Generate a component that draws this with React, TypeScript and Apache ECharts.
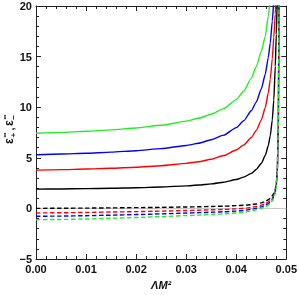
import React, { useEffect, useRef } from "react";
import * as echarts from "echarts";

const xs = [0, 0.005, 0.01, 0.015, 0.02, 0.025, 0.03, 0.0325, 0.035, 0.0375, 0.04, 0.0415, 0.043, 0.044, 0.045, 0.0458, 0.0464, 0.0468, 0.0472, 0.0475, 0.0478, 0.048, 0.0482, 0.0484, 0.0486];

const greenSolid = [7.42, 7.51, 7.62, 7.76, 7.95, 8.22, 8.62, 8.91, 9.3, 9.86, 10.75, 11.6, 12.85, 14.0, 15.5, 17.0, 19.0, 20.4, 22.8, 26];
const blueSolid = [5.3, 5.37, 5.45, 5.56, 5.7, 5.91, 6.22, 6.44, 6.78, 7.24, 7.98, 8.66, 9.65, 10.5, 11.8, 13.25, 14.9, 16.35, 18.5, 20.4, 23.5, 28];
const redSolid = [3.78, 3.83, 3.89, 3.97, 4.07, 4.22, 4.45, 4.61, 4.85, 5.22, 5.77, 6.27, 7.0, 7.7, 8.72, 9.97, 11.4, 12.75, 14.8, 16.9, 19.2, 21.5, 25];
const blackSolid = [1.9, 1.924, 1.953, 1.99, 2.04, 2.115, 2.23, 2.31, 2.42, 2.59, 2.85, 3.09, 3.46, 3.85, 4.44, 5.22, 6.19, 7.19, 8.75, 10.68, 14.05, 17.2, 20.5, 25];

const blackDashed = [0.0, 0.015, 0.03, 0.05, 0.075, 0.1, 0.14, 0.16, 0.19, 0.22, 0.27, 0.31, 0.37, 0.44, 0.55, 0.68, 0.85, 1.0, 1.25, 1.5, 1.9, 2.5, 3.8, 8, 30];
const redDashed = [-0.45, -0.43, -0.4, -0.36, -0.32, -0.27, -0.21, -0.18, -0.14, -0.1, -0.05, 0.01, 0.1, 0.19, 0.32, 0.46, 0.62, 0.77, 1.0, 1.28, 1.7, 2.3, 3.7, 8, 30];
const blueDashed = [-0.78, -0.76, -0.72, -0.67, -0.61, -0.54, -0.46, -0.42, -0.38, -0.33, -0.27, -0.2, -0.09, 0.01, 0.15, 0.29, 0.46, 0.62, 0.87, 1.16, 1.6, 2.2, 3.6, 8, 30];
const greenDashed = [-1.12, -1.09, -1.05, -0.98, -0.9, -0.81, -0.71, -0.66, -0.6, -0.54, -0.46, -0.38, -0.25, -0.13, 0.02, 0.16, 0.33, 0.5, 0.76, 1.06, 1.5, 2.1, 3.5, 8, 30];

const xTicks = [0, 0.01, 0.02, 0.03, 0.04, 0.05];
const yTicks = [-5, 0, 5, 10, 15, 20];

const GREEN = "#22ee22";
const BLUE = "#0000ff";
const RED = "#ff0000";
const BLACK = "#000000";

const toPairs = (ys: number[]) => ys.map((y, i) => [xs[i], y]);

export default function App() {
  const ref = useRef<HTMLDivElement>(null);
  useEffect(() => {
    if (!ref.current) return;
    const chart = echarts.init(ref.current, null, { renderer: "svg" });
    const font = "'Liberation Sans', Arial, sans-serif";
    const axisCommon = {
      axisLine: { show: true, onZero: false, lineStyle: { color: "#222", width: 1 } },
      axisTick: { show: true, inside: true, length: 5, lineStyle: { color: "#222" } },
      minorTick: { show: true, splitNumber: 5, length: 3, lineStyle: { color: "#222" } },
      splitLine: { show: false },
    };
    const line = (name: string, ys: number[], color: string, dashed: boolean, extra: any = {}) => ({
      type: "line",
      name,
      data: toPairs(ys),
      showSymbol: false,
      symbol: "none",
      smooth: 0.2,
      smoothMonotone: "x",
      clip: true,
      lineStyle: { color, width: 1.4, type: dashed ? [4.5, 2.5] : "solid" },
      z: dashed ? 3 : 4,
      ...extra,
    });
    const t = (text: string, x: number, y: number, size: number) => ({
      type: "text",
      x,
      y,
      style: {
        text,
        fontFamily: font,
        fontWeight: "bold",
        fontSize: size,
        fill: "#111",
        align: "left",
        verticalAlign: "middle",
      },
    });
    chart.setOption({
      animation: false,
      grid: { left: 36, right: 12, top: 6, bottom: 36, containLabel: false },
      xAxis: [
        {
          type: "value",
          min: xTicks[0],
          max: xTicks[xTicks.length - 1],
          interval: 0.01,
          position: "bottom",
          ...axisCommon,
          axisLabel: {
            show: true,
            margin: 4,
            fontFamily: font,
            fontWeight: "bold",
            fontSize: 11,
            color: "#111",
            formatter: (v: number) => v.toFixed(2),
          },
          name: "ΛM²",
          nameLocation: "middle",
          nameGap: 20,
          nameMoveOverlap: false,
          nameTextStyle: { fontFamily: font, fontStyle: "italic", fontWeight: "bold", fontSize: 11, color: "#111" },
        },
        {
          type: "value",
          min: xTicks[0],
          max: xTicks[xTicks.length - 1],
          interval: 0.01,
          position: "top",
          ...axisCommon,
          axisLabel: { show: false },
        },
      ],
      yAxis: [
        {
          type: "value",
          min: yTicks[0],
          max: yTicks[yTicks.length - 1],
          interval: 5,
          position: "left",
          ...axisCommon,
          axisLabel: {
            show: true,
            margin: 4,
            fontFamily: font,
            fontWeight: "bold",
            fontSize: 11,
            color: "#111",
            formatter: (v: number) => (v < 0 ? "\u2212" + Math.abs(v) : String(v)),
          },
        },
        {
          type: "value",
          min: yTicks[0],
          max: yTicks[yTicks.length - 1],
          interval: 5,
          position: "right",
          ...axisCommon,
          axisLabel: { show: false },
        },
      ],
      graphic: [
        {
          type: "group",
          x: 9,
          y: 127,
          rotation: Math.PI / 2,
          children: [
            t("ε", -17, 0, 12),
            t("∞", -10.5, -4.5, 7),
            t("+", -10.5, 4, 8),
            t(",", -3.5, 1, 11),
            t("ε", 1, 0, 12),
            t("∞", 7.5, -4.5, 7),
            t("−", 7.5, 4, 8),
          ],
        },
      ],
      series: [
        line("blackDashed", blackDashed, BLACK, true, {
          markLine: {
            silent: true,
            symbol: "none",
            label: { show: false },
            lineStyle: { color: "#c8c8c8", type: "solid", width: 1 },
            data: [{ yAxis: 0 }],
            z: 1,
          },
        }),
        line("redDashed", redDashed, RED, true),
        line("blueDashed", blueDashed, BLUE, true),
        line("greenDashed", greenDashed, GREEN, true),
        line("blackSolid", blackSolid, BLACK, false),
        line("redSolid", redSolid, RED, false),
        line("blueSolid", blueSolid, BLUE, false),
        line("greenSolid", greenSolid, GREEN, false),
      ],
    });
    return () => chart.dispose();
  }, []);
  return <div ref={ref} style={{ position: "fixed", left: 0, top: 0, width: 300, height: 295 }} />;
}
